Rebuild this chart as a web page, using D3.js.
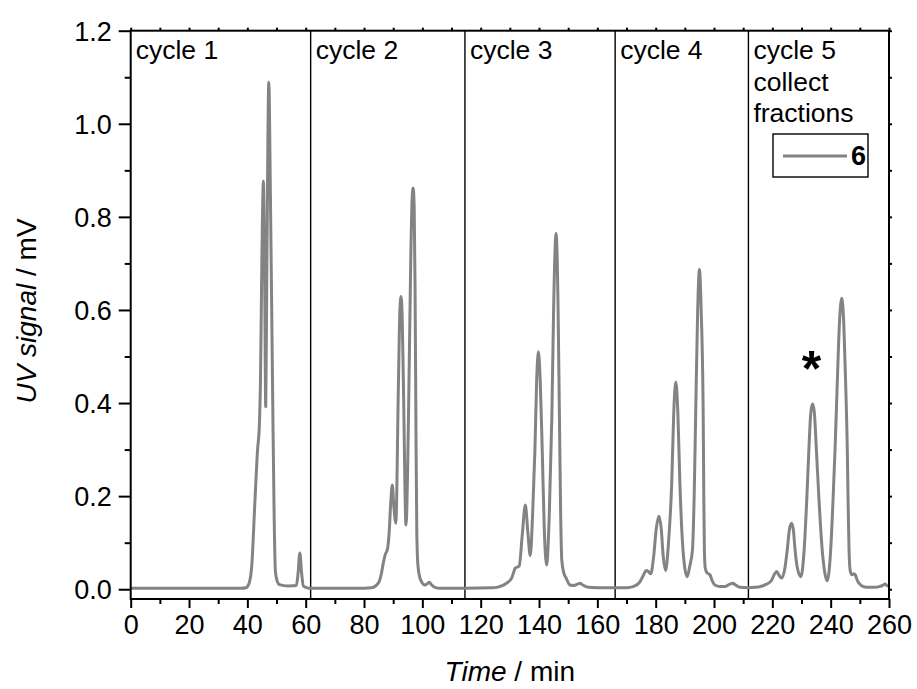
<!DOCTYPE html>
<html>
<head>
<meta charset="utf-8">
<script src="https://cdn.jsdelivr.net/npm/d3@7"></script>
<style>
  html, body { margin: 0; padding: 0; background: #fff; }
  svg { display: block; font-family: "Liberation Sans", Arial, sans-serif; }
  svg text { font-family: "Liberation Sans", Arial, sans-serif; }
</style>
</head>
<body>
<svg id="chart" width="917" height="689"></svg>
<script>
// Recycling chromatogram, fraction 6: [time (min), UV signal (mV)]
const cycle1 = [
  [0,0.002],[20,0.002],[38,0.002],[39.5,0.003],[40.6,0.013],[41.5,0.05],[42.6,0.19],[43.5,0.30],
  [44.1,0.35],[44.5,0.45],[45.0,0.72],[45.5,0.877],[45.9,0.70],[46.3,0.392],[46.7,0.70],[47.35,1.089],
  [47.9,0.85],[48.7,0.40],[49.2,0.15],[49.6,0.04],[50.2,0.018],[51,0.010],[54,0.007],[56.8,0.008],
  [57.4,0.035],[58.0,0.078],[58.6,0.035],[59.2,0.007],[60.5,0.003],[61.7,0.002]
];
const cycle2 = [
  [61.7,0.002],[80,0.002],[82.6,0.003],[84.9,0.013],[86.0,0.035],[86.6,0.056],[87.3,0.075],[88.0,0.085],
  [88.6,0.12],[89.2,0.19],[89.7,0.224],[90.2,0.18],[90.9,0.142],[91.8,0.443],[92.3,0.60],[92.7,0.629],
  [93.1,0.58],[93.5,0.443],[94.4,0.138],[95.2,0.35],[96.0,0.70],[96.5,0.84],[96.85,0.862],[97.2,0.82],
  [97.5,0.65],[97.8,0.35],[98.1,0.12],[98.5,0.05],[99.4,0.020],[100.9,0.009],[101.7,0.012],[102.4,0.015],
  [103.2,0.009],[104.3,0.004],[106,0.002],[114.6,0.002]
];
const cycle3 = [
  [114.6,0.003],[124,0.003],[125.5,0.004],[128.9,0.013],[130.6,0.024],[131.5,0.040],[131.8,0.045],[133.2,0.050],
  [134.3,0.12],[135.3,0.181],[136.2,0.12],[137.0,0.072],[137.8,0.16],[138.6,0.30],[139.2,0.45],[139.8,0.510],
  [140.4,0.45],[141.1,0.30],[141.8,0.13],[142.6,0.052],[143.5,0.156],[144.4,0.371],[145.0,0.60],[145.85,0.765],
  [146.5,0.62],[147.0,0.371],[147.4,0.17],[147.8,0.063],[148.5,0.035],[149.3,0.024],[150.6,0.009],[152,0.008],
  [153.2,0.011],[154.1,0.013],[155.0,0.009],[156.9,0.004],[160,0.003],[166.1,0.003]
];
const cycle4 = [
  [166.1,0.003],[170,0.003],[172.5,0.006],[174.6,0.016],[175.8,0.030],[176.7,0.040],[177.5,0.038],[178.3,0.033],
  [179.3,0.07],[180.2,0.13],[181.1,0.157],[181.9,0.13],[182.6,0.07],[183.4,0.040],[184.4,0.10],[185.5,0.228],
  [186.2,0.38],[186.9,0.445],[187.6,0.38],[188.3,0.228],[189.2,0.10],[190.0,0.045],[190.8,0.027],[191.7,0.05],
  [192.6,0.084],[193.2,0.20],[193.7,0.371],[194.4,0.60],[195.0,0.687],[195.6,0.60],[196.3,0.371],[196.5,0.20],
  [196.7,0.084],[197.0,0.045],[197.6,0.035],[198.6,0.031],[199.4,0.018],[200.3,0.009],[202,0.006],[203.7,0.006],
  [205.4,0.011],[206.4,0.013],[207.4,0.009],[208.9,0.004],[211.8,0.003]
];
const cycle5 = [
  [211.8,0.003],[214,0.004],[216,0.006],[218.1,0.011],[219.8,0.020],[220.7,0.032],[221.5,0.038],[222.3,0.030],
  [223.2,0.024],[224.3,0.045],[225.1,0.084],[225.9,0.13],[226.6,0.142],[227.2,0.128],[227.8,0.084],[228.6,0.045],
  [229.8,0.027],[230.9,0.084],[231.8,0.192],[232.6,0.31],[233.2,0.38],[233.8,0.398],[234.4,0.38],[235.1,0.30],
  [236.0,0.192],[237.1,0.084],[238.0,0.035],[238.8,0.018],[240.0,0.084],[240.8,0.19],[241.5,0.30],[242.3,0.45],
  [243.0,0.57],[243.8,0.625],[244.5,0.57],[245.1,0.45],[245.7,0.30],[246.0,0.18],[246.3,0.084],[246.7,0.040],
  [247.3,0.031],[247.9,0.033],[248.4,0.031],[249.2,0.018],[250,0.011],[251,0.006],[252.4,0.004],[255,0.004],
  [256.9,0.006],[258,0.009],[258.6,0.011],[259.3,0.008],[260,0.006]
];

const cycleLabels = [["cycle 1"],["cycle 2"],["cycle 3"],["cycle 4"],["cycle 5","collect","fractions"]];
const cycleStarts = [0, 61.7, 114.6, 166.1, 211.8];
const cycleBoundaries = [61.7, 114.6, 166.1, 211.8];
const xTickValues = [0,20,40,60,80,100,120,140,160,180,200,220,240,260];
const xMinorValues = [10,30,50,70,90,110,130,150,170,190,210,230,250];
const yTickValues = [0.0,0.2,0.4,0.6,0.8,1.0,1.2];
const yMinorValues = [0.1,0.3,0.5,0.7,0.9,1.1];
const legendLabel = "6";
const markedPeak = [233.8, 0.398];

const svg = d3.select("#chart");

const x = d3.scaleLinear().domain([0, 260]).range([130.7, 889]);
const y = d3.scaleLinear().domain([-0.021, 1.2]).range([599, 30.7]);

const lineColor = "#838383";
const tickFont = 27;
const labelFont = 26.5;
const titleFont = 28;

// cycle separators
svg.append("g").selectAll("line").data(cycleBoundaries).join("line")
  .attr("x1", d => x(d)).attr("x2", d => x(d))
  .attr("y1", y.range()[1]).attr("y2", y.range()[0])
  .attr("stroke", "#000").attr("stroke-width", 1.4);

// chromatogram trace
const line = d3.line().x(d => x(d[0])).y(d => y(d[1])).curve(d3.curveMonotoneX);
const trace = [].concat(cycle1, cycle2.slice(1), cycle3.slice(1), cycle4.slice(1), cycle5.slice(1));
svg.append("path").datum(trace)
  .attr("d", line)
  .attr("fill", "none")
  .attr("stroke", lineColor)
  .attr("stroke-width", 3)
  .attr("stroke-linejoin", "round");

// axes
const fmt = d3.format(".1f");
const xAxis = svg.append("g").attr("transform", `translate(0,${y.range()[0]})`)
  .call(d3.axisBottom(x).tickValues(xTickValues).tickSize(9).tickSizeOuter(0).tickPadding(7).tickFormat(d3.format("d")));
const xMinor = svg.append("g").attr("transform", `translate(0,${y.range()[0]})`)
  .call(d3.axisBottom(x).tickValues(xMinorValues).tickSize(5).tickSizeOuter(0).tickFormat(""));
const yAxis = svg.append("g").attr("transform", `translate(${x.range()[0]},0)`)
  .call(d3.axisLeft(y).tickValues(yTickValues).tickSize(12).tickSizeOuter(0).tickPadding(7).tickFormat(fmt));
const yMinor = svg.append("g").attr("transform", `translate(${x.range()[0]},0)`)
  .call(d3.axisLeft(y).tickValues(yMinorValues).tickSize(6).tickSizeOuter(0).tickFormat(""));
const xTop = svg.append("g").attr("transform", `translate(0,${y.range()[1]})`)
  .call(d3.axisTop(x).tickValues(xTickValues.concat(xMinorValues)).tickSize(3).tickSizeOuter(0).tickFormat(""));
const yRight = svg.append("g").attr("transform", `translate(${x.range()[1]},0)`)
  .call(d3.axisRight(y).tickValues(yTickValues.concat(yMinorValues)).tickSize(3).tickSizeOuter(0).tickFormat(""));

[xAxis, xMinor, yAxis, yMinor, xTop, yRight].forEach(g => {
  g.attr("font-family", null);
  g.select(".domain").remove();
  g.selectAll(".tick line").attr("stroke", "#000").attr("stroke-width", 2);
  g.selectAll("text").attr("font-size", tickFont).attr("fill", "#000");
});
yAxis.selectAll("text").attr("dy", "0.36em");

// frame
svg.append("rect")
  .attr("x", x.range()[0]).attr("y", y.range()[1])
  .attr("width", x.range()[1] - x.range()[0]).attr("height", y.range()[0] - y.range()[1])
  .attr("fill", "none").attr("stroke", "#000").attr("stroke-width", 2);

// cycle labels
const labels = svg.append("g").attr("font-size", labelFont);
cycleLabels.forEach((lines, i) => {
  const t = labels.append("text");
  lines.forEach((s, j) => {
    t.append("tspan").attr("x", x(cycleStarts[i]) + 5).attr("y", 59 + j * 31.5).text(s);
  });
});

// legend
const lg = svg.append("g");
lg.append("rect").attr("x", 773).attr("y", 134).attr("width", 95).attr("height", 43)
  .attr("fill", "#fff").attr("stroke", "#000").attr("stroke-width", 1.4);
lg.append("line").attr("x1", 783).attr("x2", 847).attr("y1", 156).attr("y2", 156)
  .attr("stroke", lineColor).attr("stroke-width", 3);
lg.append("text").attr("x", 866).attr("y", 165).attr("text-anchor", "end")
  .attr("font-size", tickFont).attr("font-weight", "bold").text(legendLabel);

// marker above the collected peak
svg.append("text")
  .attr("x", x(markedPeak[0]) - 1).attr("y", y(markedPeak[1]) - 18)
  .attr("text-anchor", "middle").attr("font-size", 50).attr("font-weight", "bold").text("*");

// axis titles
const xt = svg.append("text").attr("x", (x.range()[0] + x.range()[1]) / 2).attr("y", 681)
  .attr("text-anchor", "middle").attr("font-size", titleFont);
xt.append("tspan").attr("font-style", "italic").text("Time");
xt.append("tspan").text(" / min");

const yt = svg.append("text")
  .attr("transform", `translate(36,311) rotate(-90)`)
  .attr("text-anchor", "middle").attr("font-size", titleFont);
yt.append("tspan").attr("font-style", "italic").text("UV signal");
yt.append("tspan").text(" / mV");
</script>
</body>
</html>
